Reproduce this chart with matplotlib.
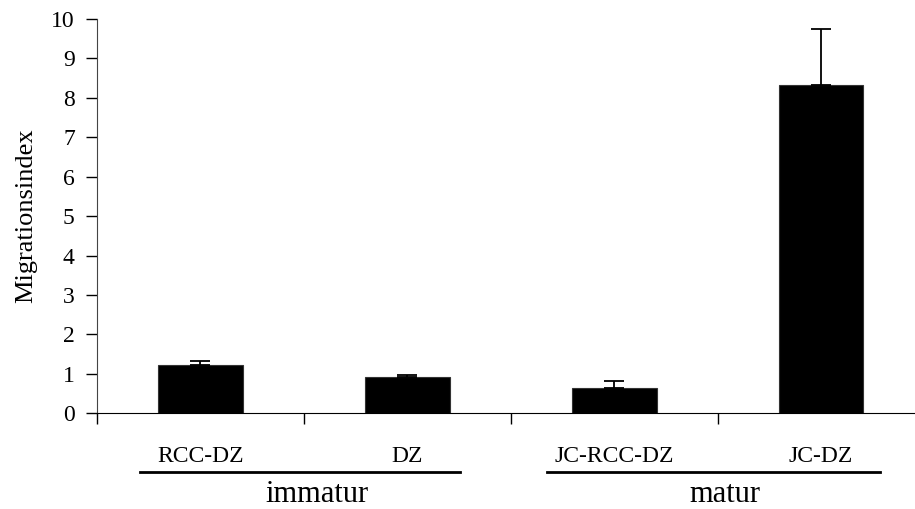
import matplotlib
matplotlib.use("Agg")
import matplotlib.pyplot as plt
import matplotlib.transforms as mtransforms
import numpy as np

# data
CATEGORIES = ["RCC-DZ", "DZ", "JC-RCC-DZ", "JC-DZ"]
VALUES = [1.23, 0.92, 0.63, 8.33]
ERR_UP = [0.10, 0.05, 0.18, 1.41]
GROUPS = ["immatur", "matur"]
GROUP_SPAN = [(-0.29, 1.256), (1.676, 3.285)]   # underline extent in category units
GROUP_LABEL_X = [0.565, 2.536]

plt.rcParams["font.family"] = ["Liberation Serif", "DejaVu Serif"]

fig = plt.figure(figsize=(9.15, 5.09), dpi=100)
ax = fig.add_axes([0.106, 0.188, 0.894, 0.7747])

x = np.arange(len(CATEGORIES))
ax.bar(x, VALUES, width=0.41, color="black", edgecolor="#333333", linewidth=0.8, zorder=2)
ax.errorbar(x, VALUES, yerr=[np.zeros(len(x)), ERR_UP], fmt="none", ecolor="black",
            elinewidth=1.3, capsize=7.5, capthick=1.3, zorder=3)

ax.set_xlim(-0.5, 3.454)
ax.set_ylim(0, 10)
ax.set_yticks(range(0, 11))
ax.tick_params(axis="y", direction="out", length=8, width=1, pad=8, labelsize=17)
ax.set_xticks(np.arange(-0.5, 3.0, 1.0))
ax.set_xticklabels([])
ax.tick_params(axis="x", direction="out", length=8, width=1)
for s in ["top", "right"]:
    ax.spines[s].set_visible(False)
ax.spines["left"].set_color("#444444")
ax.spines["bottom"].set_color("black")
ax.set_ylabel("Migrationsindex", fontsize=19, labelpad=10)

trans = mtransforms.blended_transform_factory(ax.transData, fig.transFigure)
for xi, name in zip(x, CATEGORIES):
    fig.text(xi, 0.0929, name, transform=trans, ha="center", va="baseline", fontsize=17)
for (x0, x1), gx, g in zip(GROUP_SPAN, GROUP_LABEL_X, GROUPS):
    fig.add_artist(plt.Line2D([x0, x1], [0.0733, 0.0733], transform=trans, color="black", lw=2))
    fig.text(gx, 0.014, g, transform=trans, ha="center", va="baseline", fontsize=22)

fig.savefig("out.png", dpi=100)
